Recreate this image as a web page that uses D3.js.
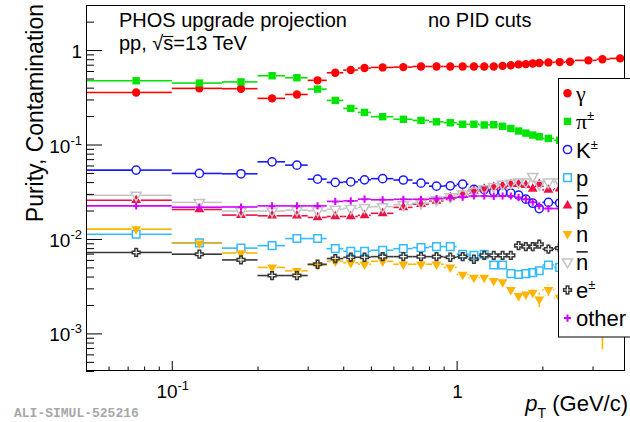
<!DOCTYPE html>
<html>
<head>
<meta charset="utf-8">
<script src="https://cdn.jsdelivr.net/npm/d3@7/dist/d3.min.js"></script>
<style>
  html, body { margin: 0; padding: 0; background: #fff; }
  svg { display: block; }
  text { font-family: "Liberation Sans", Arial, Helvetica, sans-serif; fill: #000; }
</style>
</head>
<body>
<svg id="chart" width="630" height="422"></svg>
<script>
// pT bins (GeV/c)
const ptCenters = [0.075,0.125,0.175,0.225,0.275,0.325,0.375,0.425,0.475,0.55,0.65,0.75,0.85,0.95,1.05,1.15,1.25,1.35,1.45,1.55,1.65,1.75,1.85,1.95,2.1,2.3,2.5,2.9,3.25,3.75];
const ptLow    = [0.05,0.1,0.15,0.2,0.25,0.3,0.35,0.4,0.45,0.5,0.6,0.7,0.8,0.9,1.0,1.1,1.2,1.3,1.4,1.5,1.6,1.7,1.8,1.9,2.0,2.2,2.4,2.6,3.1,3.45];
const ptHigh   = [0.1,0.15,0.2,0.25,0.3,0.35,0.4,0.45,0.5,0.6,0.7,0.8,0.9,1.0,1.1,1.2,1.3,1.4,1.5,1.6,1.7,1.8,1.9,2.0,2.2,2.4,2.6,3.1,3.45,4.0];

// fraction of clusters per particle species
const gammaVals    = [0.356,0.393,0.39,0.308,0.339,0.478,0.575,0.614,0.645,0.655,0.66,0.67,0.67,0.67,0.67,0.67,0.67,0.67,0.68,0.69,0.705,0.71,0.72,0.73,0.74,0.746,0.752,0.778,0.80,0.816];
const pionVals     = [0.473,0.447,0.46,0.535,0.509,0.386,0.293,0.241,0.219,0.197,0.185,0.18,0.174,0.17,0.164,0.164,0.161,0.162,0.156,0.148,0.139,0.132,0.126,0.121,0.116,0.111,0.107,0.103,0.100,0.098];
const kaonVals     = [0.0536,0.0494,0.049,0.0656,0.0605,0.043,0.0397,0.0402,0.0423,0.0435,0.0421,0.039,0.0362,0.0365,0.038,0.0335,0.0334,0.0316,0.0311,0.0306,0.0291,0.0264,0.0239,0.021,0.0244,0.024,0.025,0.026,0.027,0.028];
const protonVals   = [0.0112,0.0091,0.008,0.0085,0.0101,0.0101,0.0079,0.0074,0.0074,0.0076,0.0079,0.0081,0.0083,0.0083,0.0069,0.0067,0.0069,0.0053,0.0053,0.0043,0.0042,0.0043,0.0044,0.0046,0.0053,0.005,0.005,0.005,0.0048,0.0045];
const pbarVals     = [0.0257,0.0205,0.0179,0.0176,0.0176,0.0169,0.0173,0.0173,0.0178,0.0187,0.0216,0.0234,0.0253,0.0275,0.0297,0.0323,0.0338,0.0353,0.0366,0.0381,0.0381,0.0372,0.0338,0.038,0.0331,0.034,0.033,0.032,0.031,0.03];
const neutronVals  = [0.0127,0.009,0.0071,0.005,0.0046,0.0053,0.0058,0.0056,0.0054,0.0058,0.0054,0.0054,0.0054,0.005,0.0042,0.0039,0.0039,0.0036,0.0035,0.0029,0.0025,0.0026,0.0027,0.0023,0.0029,0.0024,0.0022,0.0021,0.0022,0.0021];
const neutronErr   = [0,0,0,0,0,0,0,0,0,0,0,0,0,0,0,0,0,0.0002,0.0002,0.0003,0.0003,0.0003,0.0003,0.0004,0.0004,0.0005,0.0005,0.0007,0.00152,0.0009];
const nbarVals     = [0.029,0.0244,0.0197,0.0198,0.0202,0.0199,0.0206,0.021,0.0216,0.022,0.023,0.024,0.026,0.028,0.030,0.032,0.034,0.036,0.038,0.039,0.040,0.040,0.046,0.038,0.040,0.04,0.04,0.04,0.04,0.04];
const electronVals = [0.0072,0.0069,0.006,0.0041,0.0041,0.0054,0.0062,0.0064,0.0064,0.0065,0.0065,0.0065,0.0065,0.0064,0.0065,0.0061,0.0067,0.0067,0.0067,0.0067,0.0085,0.0083,0.0083,0.0088,0.0078,0.008,0.008,0.008,0.008,0.008];
const otherVals    = [0.0224,0.0217,0.0218,0.0224,0.0224,0.0224,0.025,0.0253,0.0264,0.026,0.0263,0.0263,0.0268,0.0272,0.0277,0.0285,0.0285,0.0283,0.0285,0.0285,0.0275,0.0263,0.0245,0.0224,0.021,0.021,0.021,0.021,0.021,0.021];

const legendLabels = ["γ", "π±", "K±", "p", "p\u0304", "n", "n\u0304", "e±", "other"];

const xMajorTicks = [0.1, 1];
const xMinorTicks = [0.06,0.07,0.08,0.09,0.2,0.3,0.4,0.5,0.6,0.7,0.8,0.9,2,3];
const yMajorTicks = [0.001, 0.01, 0.1, 1];
const yMinorTicks = [4e-4,5e-4,6e-4,7e-4,8e-4,9e-4,
                     2e-3,3e-3,4e-3,5e-3,6e-3,7e-3,8e-3,9e-3,
                     0.02,0.03,0.04,0.05,0.06,0.07,0.08,0.09,
                     0.2,0.3,0.4,0.5,0.6,0.7,0.8,0.9,2,3];

// ---------------------------------------------------------------
const svg = d3.select("#chart");
const frame = {left: 86, right: 625, top: 5, bottom: 371};

const x = d3.scaleLog().domain([0.05, 3.9]).range([frame.left, frame.right]);
const y = d3.scaleLog().domain([4e-4, 3]).range([frame.bottom, frame.top]);

svg.append("rect").attr("width", 630).attr("height", 422).attr("fill", "#fff");

svg.append("defs").append("clipPath").attr("id", "plotclip")
  .append("rect")
  .attr("x", frame.left).attr("y", frame.top)
  .attr("width", frame.right - frame.left).attr("height", frame.bottom - frame.top);

// marker shapes
function crossPath(h, a) {
  return `M${-a},${-h}L${a},${-h}L${a},${-a}L${h},${-a}L${h},${a}L${a},${a}L${a},${h}L${-a},${h}L${-a},${a}L${-h},${a}L${-h},${-a}L${-a},${-a}Z`;
}
const markerDefs = {
  circle:   {d: d3.symbol(d3.symbolCircle, Math.PI * 4.2 * 4.2)(), filled: true,  rot: 0,   gap: 4.2},
  square:   {d: d3.symbol(d3.symbolSquare, 7.4 * 7.4)(),          filled: true,  rot: 0,   gap: 3.7},
  ocircle:  {d: d3.symbol(d3.symbolCircle, Math.PI * 4.1 * 4.1)(), filled: false, rot: 0,   gap: 4.1},
  osquare:  {d: d3.symbol(d3.symbolSquare, 7.6 * 7.6)(),          filled: false, rot: 0,   gap: 3.8},
  triup:    {d: d3.symbol(d3.symbolTriangle, 42)(),               filled: true,  rot: 0,   gap: 4.5},
  tridown:  {d: d3.symbol(d3.symbolTriangle, 42)(),               filled: true,  rot: 180, gap: 4.5},
  otridown: {d: d3.symbol(d3.symbolTriangle, 46)(),               filled: false, rot: 180, gap: 4.5},
  ocross:   {d: crossPath(3.9, 1.3),                             filled: false, rot: 0,   gap: 3.9},
  plus:     {d: crossPath(3.6, 1.0),                             filled: true,  rot: 0,   gap: 3.6}
};

const series = [
  {vals: gammaVals,    color: "#ff0000", marker: "circle"},
  {vals: pionVals,     color: "#00e400", marker: "square"},
  {vals: kaonVals,     color: "#1a1aff", marker: "ocircle"},
  {vals: protonVals,   color: "#33bbff", marker: "osquare"},
  {vals: pbarVals,     color: "#ee1144", marker: "triup"},
  {vals: neutronVals,  color: "#ffb400", marker: "tridown", err: neutronErr},
  {vals: nbarVals,     color: "#c4c4c4", marker: "otridown"},
  {vals: electronVals, color: "#383838", marker: "ocross"},
  {vals: otherVals,    color: "#d400ff", marker: "plus"}
];

function drawMarker(g, kind, color, cx, cy) {
  const m = markerDefs[kind];
  g.append("path")
    .attr("d", m.d)
    .attr("transform", `translate(${cx},${cy})` + (m.rot ? ` rotate(${m.rot})` : ""))
    .attr("fill", m.filled ? color : "none")
    .attr("stroke", m.filled ? "none" : color)
    .attr("stroke-width", m.filled ? 0 : 1.5);
}

const dataLayer = svg.append("g").attr("clip-path", "url(#plotclip)");

series.forEach(s => {
  const g = dataLayer.append("g");
  const m = markerDefs[s.marker];
  const pts = ptCenters.map((c, i) => ({c, lo: ptLow[i], hi: ptHigh[i], v: s.vals[i], e: s.err ? s.err[i] : 0}));
  pts.forEach(p => {
    const cx = x(p.c), cy = y(p.v);
    const x1 = x(p.lo), x2 = x(p.hi);
    const segs = [];
    if (cx - m.gap > x1) segs.push([x1, cy, cx - m.gap, cy]);
    if (x2 > cx + m.gap) segs.push([cx + m.gap, cy, x2, cy]);
    if (p.e > 0) {
      const yUp = y(p.v + p.e), yDn = y(p.v - p.e);
      if (cy - m.gap > yUp) segs.push([cx, yUp, cx, cy - m.gap]);
      if (yDn > cy + m.gap) segs.push([cx, cy + m.gap, cx, yDn]);
    }
    segs.forEach(sg => g.append("line")
      .attr("x1", sg[0]).attr("y1", sg[1]).attr("x2", sg[2]).attr("y2", sg[3])
      .attr("stroke", s.color).attr("stroke-width", 1.6));
  });
  pts.forEach(p => drawMarker(g, s.marker, s.color, x(p.c), y(p.v)));
});

// axes: ticks point into the frame
const axisG = svg.append("g");
function styleAxis(sel) {
  sel.select(".domain").remove();
  sel.selectAll(".tick line").attr("stroke", "#000").attr("stroke-width", 1);
  sel.selectAll(".tick text").remove();
}
axisG.append("g").attr("transform", `translate(0,${frame.bottom})`)
  .call(d3.axisBottom(x).tickValues(xMajorTicks).tickSize(-10).tickFormat(() => "")).call(styleAxis);
axisG.append("g").attr("transform", `translate(0,${frame.bottom})`)
  .call(d3.axisBottom(x).tickValues(xMinorTicks).tickSize(-4.5).tickFormat(() => "")).call(styleAxis);
axisG.append("g").attr("transform", `translate(${frame.left},0)`)
  .call(d3.axisLeft(y).tickValues(yMajorTicks).tickSize(-16).tickFormat(() => "")).call(styleAxis);
axisG.append("g").attr("transform", `translate(${frame.left},0)`)
  .call(d3.axisLeft(y).tickValues(yMinorTicks).tickSize(-8).tickFormat(() => "")).call(styleAxis);

svg.append("rect")
  .attr("x", frame.left + 0.5).attr("y", frame.top + 0.5)
  .attr("width", frame.right - frame.left - 1).attr("height", frame.bottom - frame.top - 1)
  .attr("fill", "none").attr("stroke", "#000").attr("stroke-width", 1);

// tick labels, powers of ten
function powerLabel(v, px, py, anchor) {
  const t = svg.append("text").attr("x", px).attr("y", py)
    .attr("text-anchor", anchor).style("font-size", "19px");
  const e = Math.round(Math.log10(v));
  if (e === 0) { t.text("1"); return; }
  t.append("tspan").text("10");
  t.append("tspan").attr("dy", -8).style("font-size", "13px").text("-" + Math.abs(e));
}
yMajorTicks.forEach(v => powerLabel(v, 82, y(v) + 8, "end"));
xMajorTicks.forEach(v => powerLabel(v, x(v) + 1, 398, "middle"));

// axis titles
const xt = svg.append("text").attr("x", 628).attr("y", 411)
  .attr("text-anchor", "end").style("font-size", "22px");
xt.append("tspan").style("font-style", "italic").text("p");
xt.append("tspan").attr("dy", 7).style("font-size", "14px").text("T");
xt.append("tspan").attr("dy", -7).text(" (GeV/c)");

svg.append("text")
  .attr("transform", "translate(43,4) rotate(-90)")
  .attr("text-anchor", "end").style("font-size", "23px")
  .text("Purity, Contamination");

// annotations
svg.append("text").attr("x", 119).attr("y", 27).style("font-size", "20px").text("PHOS upgrade projection");
svg.append("text").attr("x", 428).attr("y", 27).style("font-size", "20px").text("no PID cuts");
const ppText = svg.append("text").attr("x", 119).attr("y", 50).style("font-size", "20px").text("pp, √s=13 TeV");
{
  const node = ppText.node();
  const sx0 = node.getStartPositionOfChar(5).x, sx1 = node.getEndPositionOfChar(5).x;
  svg.append("line").attr("x1", sx0 - 0.5).attr("x2", sx1).attr("y1", 36.5).attr("y2", 36.5)
    .attr("stroke", "#000").attr("stroke-width", 1.1);
}

// legend
const leg = svg.append("g");
leg.append("rect").attr("x", 558.5).attr("y", 78.5).attr("width", 76).attr("height", 258.5)
  .attr("fill", "#fff").attr("stroke", "#000").attr("stroke-width", 1);
legendLabels.forEach((lab, i) => {
  const cy = 93.3 + i * 28.1;
  const s = series[i];
  drawMarker(leg, s.marker, s.color, 567.5, cy);
  const serif = (lab[0] === "γ" || lab[0] === "π");
  const t = leg.append("text").attr("x", 576).attr("y", cy + 8)
    .style("font-size", "22px")
    .style("font-family", serif ? "'Liberation Serif', 'Times New Roman', serif" : null);
  const hasBar = lab.includes("\u0304");
  const base = lab.replace("\u0304", "").replace("±", "");
  t.append("tspan").text(base);
  if (lab.includes("±")) {
    t.append("tspan").attr("dy", -9).style("font-size", "13px")
      .style("font-family", "'Liberation Sans', Arial, sans-serif").text("±");
  }
  if (hasBar) {
    const w = t.node().getComputedTextLength();
    leg.append("line").attr("x1", 576.5).attr("x2", 576 + w - 0.5)
      .attr("y1", cy - 10).attr("y2", cy - 10)
      .attr("stroke", "#000").attr("stroke-width", 1.4);
  }
});

svg.append("text").attr("x", 14).attr("y", 417)
  .style("font-family", "'Liberation Mono', 'DejaVu Sans Mono', monospace")
  .style("font-weight", "bold").style("font-size", "13px").style("fill", "#a8a8a8")
  .text("ALI-SIMUL-525216");
</script>
</body>
</html>
